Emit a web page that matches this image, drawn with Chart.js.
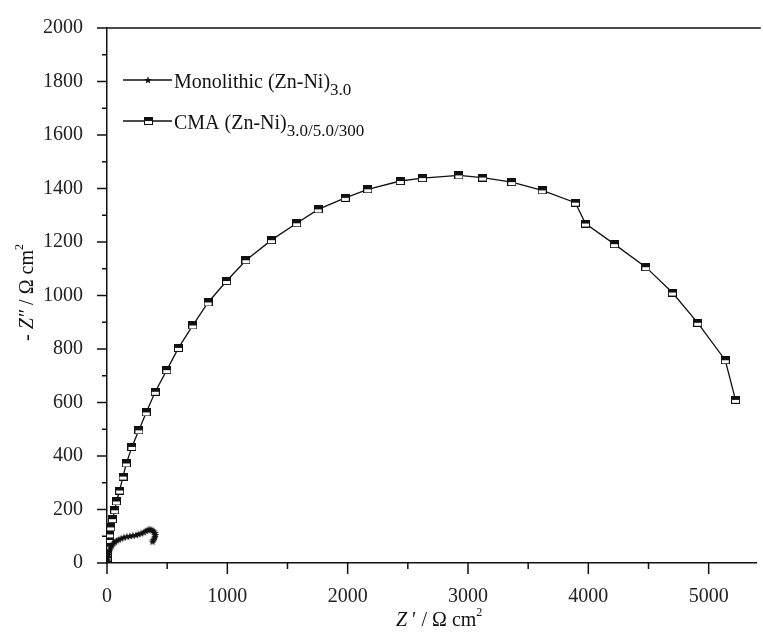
<!DOCTYPE html>
<html>
<head>
<meta charset="utf-8">
<script src="https://cdn.jsdelivr.net/npm/chart.js@4.4.0/dist/chart.umd.min.js"></script>
<style>
  html, body { margin: 0; padding: 0; background: #fff; }
  #wrap { width: 763px; height: 635px; }
</style>
</head>
<body>
<div id="wrap"><canvas id="eisChart" width="763" height="635"></canvas></div>
<script>
// Nyquist data (Z' and -Z'' in ohm cm2)
const monoZre = [0, 3, 6, 10, 15, 22, 30, 40, 52, 65, 80, 98, 118, 140, 165, 190, 215, 240, 262, 285, 305, 322, 338, 352, 365, 378, 390, 398, 402, 398, 392, 385, 378];
const monoZim = [0, 10, 20, 30, 40, 50, 58, 66, 73, 79, 84, 88, 92, 96, 99, 101, 103, 105, 108, 111, 115, 120, 124, 126, 125, 122, 118, 112, 105, 98, 92, 86, 80];

const cmaZre = [1, 3, 8, 17, 22, 31, 45, 64, 78, 105, 133, 161, 207, 265, 326, 401, 497, 594, 713, 840, 994, 1155, 1366, 1576, 1755, 1980, 2167, 2437, 2621, 2924, 3122, 3364, 3617, 3892, 3976, 4216, 4478, 4698, 4909, 5138, 5223];
const cmaZim = [20, 37, 61, 86, 107, 133, 164, 197, 230, 271, 323, 372, 434, 496, 563, 640, 721, 804, 888, 974, 1054, 1132, 1207, 1270, 1322, 1365, 1397, 1428, 1439, 1449, 1441, 1424, 1393, 1347, 1269, 1192, 1106, 1011, 898, 758, 610];

const xTicks = [0, 1000, 2000, 3000, 4000, 5000];
const yTicks = [0, 200, 400, 600, 800, 1000, 1200, 1400, 1600, 1800, 2000];

const INK = "#111";
const SERIF = "'Liberation Serif', 'DejaVu Serif', serif";

// half filled square marker
function squareMarker() {
  const c = document.createElement("canvas");
  c.width = 9; c.height = 8;
  const g = c.getContext("2d");
  g.fillStyle = "#fff";
  g.fillRect(0, 0, 9, 8);
  g.fillStyle = INK;
  g.fillRect(0, 0, 9, 4);
  g.strokeStyle = INK;
  g.lineWidth = 1;
  g.strokeRect(0.5, 0.5, 8, 7);
  return c;
}

// small five point star marker
function starMarker() {
  const c = document.createElement("canvas");
  c.width = 8; c.height = 8;
  const g = c.getContext("2d");
  g.fillStyle = INK;
  g.beginPath();
  for (let i = 0; i < 10; i++) {
    const r = i % 2 === 0 ? 4 : 1.7;
    const a = -Math.PI / 2 + i * Math.PI / 5;
    const px = 4 + r * Math.cos(a), py = 4.3 + r * Math.sin(a);
    if (i === 0) g.moveTo(px, py); else g.lineTo(px, py);
  }
  g.closePath();
  g.fill();
  return c;
}

const sq = squareMarker();
const star = starMarker();

const toPoints = (xs, ys) => xs.map((v, i) => ({ x: v, y: ys[i] }));

function richText(ctx, parts, x, y) {
  // parts: [text, font, dy]
  let cx = x;
  parts.forEach(p => {
    ctx.font = p[1];
    ctx.fillText(p[0], cx, y + (p[2] || 0));
    cx += ctx.measureText(p[0]).width;
  });
}

const decorations = {
  id: "decorations",
  afterDraw(chart) {
    const { ctx, chartArea: a, scales: { x, y } } = chart;
    ctx.save();
    ctx.strokeStyle = INK;
    ctx.fillStyle = INK;
    ctx.lineWidth = 1.5;

    // minor / major ticks, outward
    ctx.beginPath();
    for (let v = 0; v <= 2000; v += 100) {
      const py = y.getPixelForValue(v);
      const len = v % 200 === 0 ? 10 : 5;
      ctx.moveTo(a.left - len, py);
      ctx.lineTo(a.left, py);
    }
    for (let v = 0; v <= 5000; v += 500) {
      const px = x.getPixelForValue(v);
      const len = v % 1000 === 0 ? 11 : 6;
      ctx.moveTo(px, a.bottom);
      ctx.lineTo(px, a.bottom + len);
    }
    // top frame line
    ctx.moveTo(a.left, a.top);
    ctx.lineTo(a.right + 4, a.top);
    ctx.stroke();

    // legend
    ctx.lineWidth = 1.3;
    ctx.textBaseline = "alphabetic";
    ctx.textAlign = "left";
    const rows = [
      { y: 80, img: star, main: "Monolithic (Zn-Ni)", sub: "3.0" },
      { y: 121, img: sq, main: "CMA (Zn-Ni)", sub: "3.0/5.0/300" }
    ];
    rows.forEach(r => {
      ctx.beginPath();
      ctx.moveTo(123, r.y);
      ctx.lineTo(172, r.y);
      ctx.stroke();
      ctx.drawImage(r.img, Math.round(148 - r.img.width / 2), Math.round(r.y - r.img.height / 2));
      richText(ctx, [
        [r.main, "20px " + SERIF, 0],
        [r.sub, "17px " + SERIF, 7]
      ], 174, r.y + 8);
    });

    // x axis title
    richText(ctx, [
      ["Z", "italic 20px " + SERIF, 0],
      [" \u2032 / \u03A9 cm", "20px " + SERIF, 0],
      ["2", "12px " + SERIF, -10]
    ], 396, 626);

    // y axis title, rotated
    ctx.translate(33, 341);
    ctx.rotate(-Math.PI / 2);
    richText(ctx, [
      ["- ", "20px " + SERIF, 0],
      ["Z\u2033", "italic 20px " + SERIF, 0],
      [" / \u03A9 cm", "20px " + SERIF, 0],
      ["2", "12px " + SERIF, -10]
    ], 0, 0);
    ctx.restore();
  }
};

new Chart(document.getElementById("eisChart").getContext("2d"), {
  type: "scatter",
  data: {
    datasets: [
      {
        label: "Monolithic (Zn-Ni)3.0",
        data: toPoints(monoZre, monoZim),
        showLine: true,
        borderColor: INK,
        borderWidth: 2.2,
        pointStyle: star,
        pointRadius: 4,
        tension: 0
      },
      {
        label: "CMA (Zn-Ni)3.0/5.0/300",
        data: toPoints(cmaZre, cmaZim),
        showLine: true,
        borderColor: INK,
        borderWidth: 1.3,
        pointStyle: sq,
        pointRadius: 4,
        tension: 0
      }
    ]
  },
  options: {
    responsive: false,
    animation: false,
    devicePixelRatio: 1,
    layout: { padding: { top: 23, right: 4, left: 0, bottom: 0 } },
    plugins: {
      legend: { display: false },
      tooltip: { enabled: false }
    },
    scales: {
      x: {
        type: "linear",
        min: 0,
        max: 5400,
        afterFit: s => { s.height = 72; },
        afterBuildTicks: s => { s.ticks = xTicks.map(v => ({ value: v })); },
        grid: { display: false },
        border: { display: true, color: INK, width: 1.5 },
        ticks: {
          autoSkip: false,
          maxRotation: 0,
          padding: 14,
          color: "#222",
          font: { family: SERIF, size: 20 },
          callback: v => String(v)
        }
      },
      y: {
        type: "linear",
        min: 0,
        max: 2000,
        afterFit: s => { s.width = 107; },
        afterBuildTicks: s => { s.ticks = yTicks.map(v => ({ value: v })); },
        grid: { display: false },
        border: { display: true, color: INK, width: 1.5 },
        ticks: {
          padding: 16,
          color: "#222",
          font: { family: SERIF, size: 20 },
          callback: v => String(v)
        }
      }
    }
  },
  plugins: [decorations]
});
</script>
</body>
</html>
